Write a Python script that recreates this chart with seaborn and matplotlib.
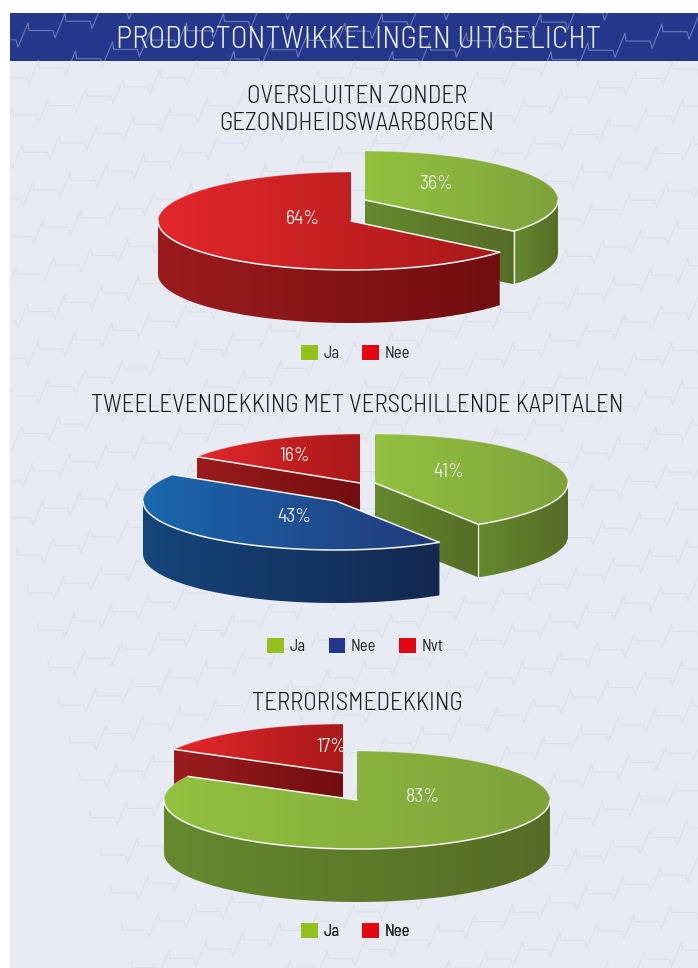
import numpy as np
import matplotlib
matplotlib.use('Agg')
import matplotlib.pyplot as plt
from matplotlib.collections import LineCollection
from matplotlib.patches import Patch, Polygon, Rectangle
import seaborn as sns

# data
header = 'PRODUCTONTWIKKELINGEN UITGELICHT'
titles = ['OVERSLUITEN ZONDER\nGEZONDHEIDSWAARBORGEN',
          'TWEELEVENDEKKING MET VERSCHILLENDE KAPITALEN',
          'TERRORISMEDEKKING']
labels_1 = ['Ja', 'Nee']
values_1 = [36, 64]
labels_2 = ['Ja', 'Nee', 'Nvt']
values_2 = [41, 43, 16]
labels_3 = ['Ja', 'Nee']
values_3 = [83, 17]

# layout in pixels
apex_1 = [(365, 200), (351, 221)]
apex_2 = [(375, 483), (336, 501), (360, 483)]
apex_3 = [(357, 800), (343, 773)]
text_1 = [(436, 184), (303, 219)]
text_2 = [(449, 472), (294, 517), (295, 456)]
text_3 = [(423, 797), (331, 747)]
title_y = [110, 406, 704]
legend_y = [353, 646, 931]
RX, RY, DEPTH = 193, 49, 53

# kleuren: top links, top rechts, zijkant links, zijkant rechts
shades = {
    'green': ['#92c240', '#7fa23b', '#66892f', '#556c26'],
    'red': ['#e4272c', '#a81919', '#9c1c1e', '#700d0e'],
    'blue': ['#1a67ad', '#223a7b', '#15457b', '#12284f'],
}
slice_colors = {'Ja': 'green', 'Nee': 'red', 'Nvt': 'red'}
legend_colors = {'Ja': '#95c11f', 'Nee': '#e30613', 'Nvt': '#e30613'}

sns.set_theme(style='white')
plt.rcParams['font.family'] = ['Barlow Semi Condensed', 'Roboto', 'DejaVu Sans']

fig = plt.figure(figsize=(6.98, 9.68), dpi=100, facecolor='white')
ax = fig.add_axes([0, 0, 1, 1])
ax.set_axis_off()

z = [2.0]


def next_z():
    z[0] += 0.001
    return z[0]


def ellipse(cx, cy, angles):
    a = np.radians(angles)
    return np.column_stack([cx + RX * np.sin(a), cy - RY * np.cos(a)])


def gradient(pts, c1, c2):
    # horizontale kleurverloop, geknipt op de vorm
    x0, x1 = pts[:, 0].min(), pts[:, 0].max()
    y0, y1 = pts[:, 1].min(), pts[:, 1].max()
    if x1 - x0 < 1:
        return
    colors = np.array(sns.blend_palette([c1, c2], n_colors=128))[None, :, :3]
    im = ax.imshow(colors, extent=(x0, x1, y1, y0), aspect='auto',
                   interpolation='bilinear', zorder=next_z())
    im.set_clip_path(Polygon(pts, closed=True, transform=ax.transData))


def edge(pts, alpha=1.0, lw=1.1):
    ax.plot(pts[:, 0], pts[:, 1], color='#f4f5f2', lw=lw, alpha=alpha,
            solid_capstyle='round', zorder=next_z())


def draw_wedge(apex, start, end, colors):
    cx, cy = apex
    top1, top2, side1, side2 = colors
    arc = ellipse(cx, cy, np.linspace(start, end, 200))
    shift = np.array([0, DEPTH])
    centre = np.array([[cx, cy]])

    # zijvlakken
    for a, visible in [(start, 180 < start < 360), (end, 0 < end < 180)]:
        if visible:
            tip = ellipse(cx, cy, [a])
            face = np.vstack([centre, tip, tip + shift, centre + shift])
            gradient(face, side1, side2)

    lo, hi = max(start, 90), min(end, 270)
    rim = None
    if hi > lo:
        rim = ellipse(cx, cy, np.linspace(lo, hi, 200))
        gradient(np.vstack([rim, (rim + shift)[::-1]]), side1, side2)

    # bovenvlak
    gradient(np.vstack([centre, arc]), top1, top2)

    # witte randen
    if rim is not None:
        edge(rim)
    if start < 90:
        edge(ellipse(cx, cy, np.linspace(start, min(end, 90), 100)), 0.35, 0.8)
    if end > 270:
        edge(ellipse(cx, cy, np.linspace(max(start, 270), end, 100)), 0.35, 0.8)
    for a in (start, end):
        if a % 360 != 0:
            edge(np.vstack([centre, ellipse(cx, cy, [a])]))
    if 0 < end < 180:
        tip = ellipse(cx, cy, [end])
        edge(np.vstack([tip, tip + shift]), lw=0.9)


def draw_pie(labels, values, apexes, text_pos):
    total = sum(values)
    edges = np.cumsum([0] + list(values)) / total * 360
    # achterste stukken eerst
    for i in sorted(range(len(values)), key=lambda k: apexes[k][1]):
        name = 'blue' if (labels[i] == 'Nee' and len(labels) == 3) else slice_colors[labels[i]]
        draw_wedge(apexes[i], edges[i], edges[i + 1], shades[name])
    for v, (x, y) in zip(values, text_pos):
        ax.text(x, y, f'{v}%', ha='center', va='center', color='#e6e9e0',
                fontsize=14, fontweight=400, zorder=4)


def draw_legend(labels, y):
    handles = []
    for lab in labels:
        color = legend_colors[lab]
        if lab == 'Nee' and len(labels) == 3:
            color = '#25378a'
        handles.append(Patch(facecolor=color, edgecolor='none', label=lab))
    leg = ax.legend(handles=handles, loc='center', bbox_to_anchor=(355.5, y),
                    bbox_transform=ax.transData, ncols=len(labels), frameon=False,
                    fontsize=12, handlelength=1, handleheight=1, handletextpad=0.35,
                    columnspacing=1.35, borderpad=0, labelcolor='#222222')
    ax.add_artist(leg)


# achtergrond met patroon
ax.add_patch(Rectangle((10, 13), 688, 955, facecolor='#e8ebf4', edgecolor='none', zorder=0))
ax.add_patch(Rectangle((10, 13), 688, 48, facecolor='#25378a', edgecolor='none', zorder=0.1))

motif = np.array([[0, 0], [1, 7.7], [25, 7.7], [27, 15]])
step = np.array([37, -9.3])
segments = []
for row in range(-8, 30):
    start_pt = np.array([-120, 60]) + row * np.array([10.5, 37.5])
    pts = np.vstack([start_pt + motif + n * step for n in range(0, 26)])
    segments.append(pts)
light = LineCollection(segments, colors='#dde1ed', linewidths=0.8, zorder=0.2)
ax.add_collection(light)
light.set_clip_path(Rectangle((10, 61), 688, 907, transform=ax.transData))
dark = LineCollection(segments, colors='#6c7ab8', linewidths=0.8, zorder=0.2)
ax.add_collection(dark)
dark.set_clip_path(Rectangle((10, 13), 688, 48, transform=ax.transData))

ax.text(358, 39.5, header, ha='center', va='center', color='#e9ebf5', fontsize=22.4,
        fontweight=300, zorder=4)
for t, y in zip(titles, title_y):
    ax.text(357, y, t, ha='center', va='center', color='#1a1a1a', fontsize=18,
            fontweight=300, linespacing=1.17, zorder=4)

draw_pie(labels_1, values_1, apex_1, text_1)
draw_pie(labels_2, values_2, apex_2, text_2)
draw_pie(labels_3, values_3, apex_3, text_3)
draw_legend(labels_1, legend_y[0])
draw_legend(labels_2, legend_y[1])
draw_legend(labels_3, legend_y[2])

ax.set_xlim(0, 698)
ax.set_ylim(968, 0)
fig.savefig('out.png', dpi=100)
